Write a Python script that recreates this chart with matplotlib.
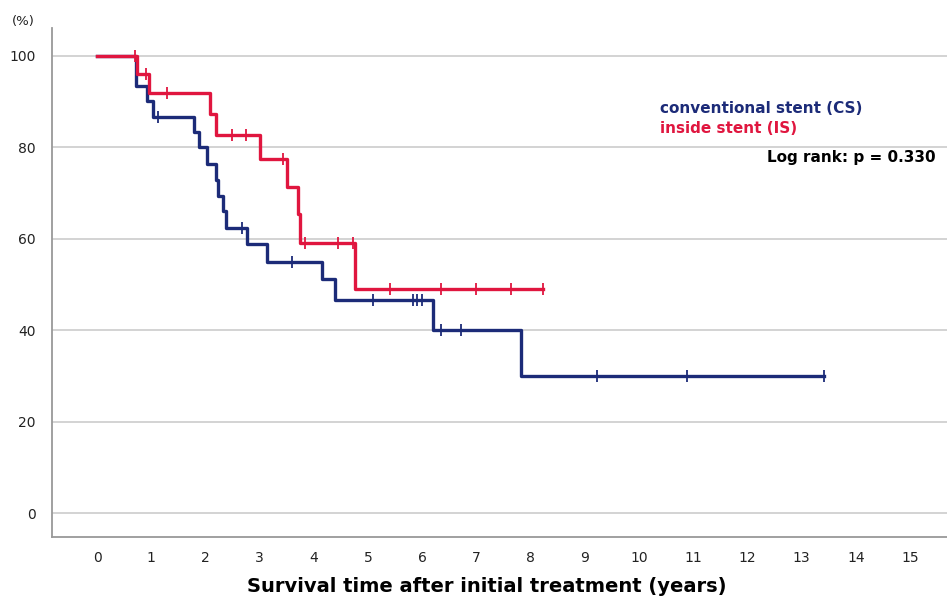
import numpy as np
import matplotlib.pyplot as plt

# Kaplan-Meier curves: conventional stent vs inside stent

# conventional stent (CS): event times (years) and survival (%) after each step
cs_times = [0, 0.72, 0.92, 1.04, 1.78, 1.88, 2.03, 2.20, 2.23, 2.32, 2.38, 2.76, 3.13, 4.15, 4.39, 6.20, 7.82]
cs_surv = [100, 93.3, 90.0, 86.7, 83.4, 80.0, 76.4, 72.8, 69.4, 66.0, 62.4, 58.9, 55.0, 51.1, 46.7, 40.1, 30.0]
cs_end = 13.41
cs_censor = [1.12, 2.68, 3.60, 5.09, 5.83, 5.90, 5.99, 6.35, 6.72, 9.22, 10.89, 13.41]

# inside stent (IS)
is_times = [0, 0.74, 0.95, 2.08, 2.20, 3.00, 3.50, 3.71, 3.75, 4.76]
is_surv = [100, 96.0, 91.9, 87.3, 82.7, 77.4, 71.3, 65.4, 59.0, 49.1]
is_end = 8.23
is_censor = [0.70, 0.90, 1.29, 2.49, 2.75, 3.43, 3.84, 4.45, 4.72, 5.41, 6.35, 6.99, 7.64, 8.23]

x_ticks = list(range(0, 16))
y_ticks = [0, 20, 40, 60, 80, 100]

CS_COLOR = '#1c2b78'
IS_COLOR = '#e0163f'


def surv_at(times, surv, t):
    idx = np.searchsorted(times, t, side='right') - 1
    return np.array(surv)[idx]


fig = plt.figure(figsize=(9.47, 6.01), dpi=100)
ax = fig.add_axes([0.055, 0.1065, 0.945, 0.8465])

for times, surv, end, cens, col in [(cs_times, cs_surv, cs_end, cs_censor, CS_COLOR),
                                     (is_times, is_surv, is_end, is_censor, IS_COLOR)]:
    tx = list(times) + [end]
    sy = list(surv) + [surv[-1]]
    ax.step(tx, sy, where='post', color=col, lw=2.4, zorder=3)
    ax.plot(cens, surv_at(times, surv, cens), linestyle='none', marker='|',
            markersize=8, mew=1.3, color=col, zorder=4)

ax.set_xlim(-0.83, 15.68)
ax.set_ylim(-5.2, 106)
ax.set_xticks(x_ticks)
ax.set_yticks(y_ticks)
ax.tick_params(axis='both', length=0, labelsize=10, colors='#222222')
ax.tick_params(axis='y', pad=12)
ax.tick_params(axis='x', pad=10)
ax.grid(axis='y', color='#cccccc', lw=1.2)
ax.set_axisbelow(True)
for s in ['top', 'right']:
    ax.spines[s].set_visible(False)
for s in ['left', 'bottom']:
    ax.spines[s].set_color('#999999')
    ax.spines[s].set_linewidth(1.3)

ax.set_xlabel('Survival time after initial treatment (years)', fontsize=14,
              fontweight='bold')
ax.xaxis.set_label_coords(0.486, -0.078)
fig.text(0.013, 0.965, '(%)', fontsize=9.5, color='#222222', va='center')

fig.text(0.697, 0.82, 'conventional stent (CS)', color=CS_COLOR, fontsize=11,
         fontweight='bold', va='center')
fig.text(0.697, 0.787, 'inside stent (IS)', color=IS_COLOR, fontsize=11,
         fontweight='bold', va='center')
fig.text(0.988, 0.738, 'Log rank: p = 0.330', color='black', fontsize=11,
         fontweight='bold', va='center', ha='right')

fig.savefig('out.png', dpi=100)
